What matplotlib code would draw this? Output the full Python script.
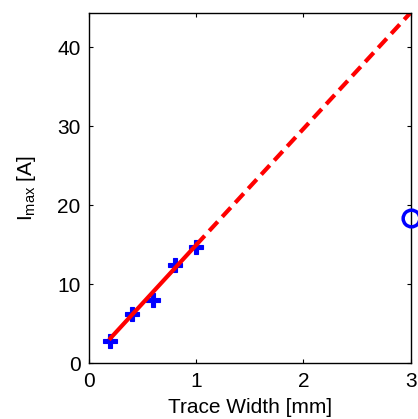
import matplotlib
matplotlib.use('Agg')
import matplotlib.pyplot as plt

plt.rcParams['font.family'] = ['Liberation Sans', 'DejaVu Sans']
plt.rcParams['mathtext.default'] = 'regular'

# measured maximum current vs. trace width
width_mm = [0.2, 0.4, 0.6, 0.8, 1.0]
imax_a = [2.9, 6.2, 8.0, 12.4, 14.7]

# linear fit over the measured range and its extrapolation
fit_w = [0.2, 1.0]
fit_i = [3.2, 15.0]
ext_w = [1.0, 3.0]
ext_i = [15.0, 44.4]

# single wide-trace measurement
wide_w = [3.0]
wide_i = [18.4]

fig = plt.figure(figsize=(4.18, 4.19), dpi=100)
ax = fig.add_axes([0.213, 0.1325, 0.7695, 0.8375])

ax.plot(width_mm, imax_a, 'P', color='blue', markersize=10, markeredgewidth=0.8)
ax.plot(fit_w, fit_i, '-', color='red', linewidth=3)
ax.plot(ext_w, ext_i, '--', color='red', linewidth=3, dashes=(3, 1.6))
ax.plot(wide_w, wide_i, 'o', color='blue', markerfacecolor='none',
        markersize=12, markeredgewidth=2.5, clip_on=False, zorder=5)

ax.set_xlim(0, 3)
ax.set_ylim(0, 44.4)
ax.set_xticks([0, 1, 2, 3])
ax.set_yticks([0, 10, 20, 30, 40])
ax.tick_params(direction='in', top=True, right=True, labelsize=15, length=3, pad=6)
for s in ax.spines.values():
    s.set_linewidth(1)

ax.set_xlabel('Trace Width [mm]', fontsize=15, labelpad=5)
ax.set_ylabel('I$_{max}$ [A]', fontsize=15, labelpad=14)

fig.savefig('out.png', dpi=100)
